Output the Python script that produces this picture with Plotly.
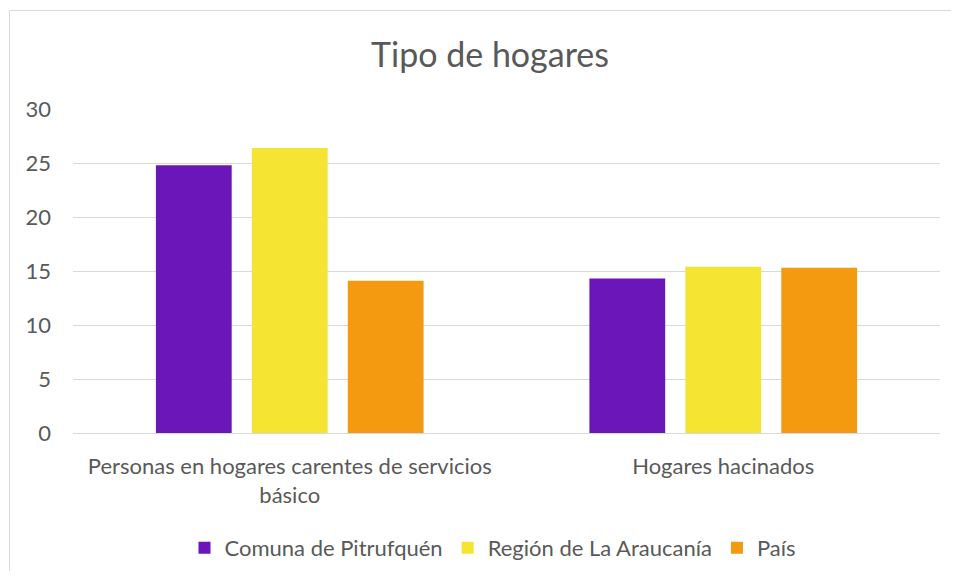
import plotly.graph_objects as go

categories = ["Personas en hogares carentes de servicios<br>básico", "Hogares hacinados"]
series_names = ["Comuna de Pitrufquén", "Región de La Araucanía", "País"]
comuna = [24.8, 14.3]
region = [26.4, 15.4]
pais = [14.1, 15.3]
colors = ["#6A16B8", "#F5E431", "#F39A10"]
y_ticks = [0, 5, 10, 15, 20, 25, 30]

OFF = 8  # default page body margin
W, H = 959 - 2 * OFF, 579 - 2 * OFF
L, T = 73 - OFF, 109 - OFF
R = W - (940 - OFF)
B = H - (433 - OFF)
pw, ph = W - L - R, H - T - B

fig = go.Figure()
for name, vals, c in zip(series_names, [comuna, region, pais], colors):
    fig.add_trace(go.Bar(x=categories, y=vals, name=name, marker=dict(color=c, line=dict(width=0))))

def px2x(px):
    return (px - OFF - L) / pw

def py2y(py):
    return (H - B - (py - OFF)) / ph

border = dict(color="#D9D9D9", width=1)
fig.update_layout(
    width=W, height=H,
    margin=dict(l=L, r=R, t=T, b=B, autoexpand=False),
    paper_bgcolor="white", plot_bgcolor="white",
    font=dict(family="Lato, Open Sans, sans-serif", color="#595959", size=22),
    title=dict(text="Tipo de hogares", x=(490 - OFF) / W, xanchor="center", y=1 - (55 - OFF) / H, yanchor="middle",
               font=dict(size=34, color="#595959")),
    barmode="group", bargap=0.336, bargroupgap=0.21,
    showlegend=True,
    legend=dict(orientation="h", x=px2x(493), xanchor="center",
                y=py2y(548), yanchor="middle", font=dict(size=22, color="#595959"),
                itemwidth=30, traceorder="normal"),
    xaxis=dict(showgrid=False, showline=False, ticks="", tickfont=dict(size=22, color="#595959"),
               ticklabelstandoff=18, automargin=False),
    yaxis=dict(range=[0, 30], tickvals=y_ticks, showgrid=True, gridcolor="#D9D9D9", gridwidth=1,
               zeroline=True, zerolinecolor="#D9D9D9", zerolinewidth=1, showline=False, ticks="",
               tickfont=dict(size=22, color="#595959"), ticklabelstandoff=21, automargin=False),
    shapes=[
        dict(type="line", xref="paper", yref="paper", x0=px2x(9.5), x1=px2x(9.5), y0=py2y(10.5), y1=py2y(620),
             line=border, layer="below"),
        dict(type="line", xref="paper", yref="paper", x0=px2x(9.5), x1=px2x(990), y0=py2y(10.5), y1=py2y(10.5),
             line=border, layer="below"),
    ],
)

fig.write_html("out.html")
